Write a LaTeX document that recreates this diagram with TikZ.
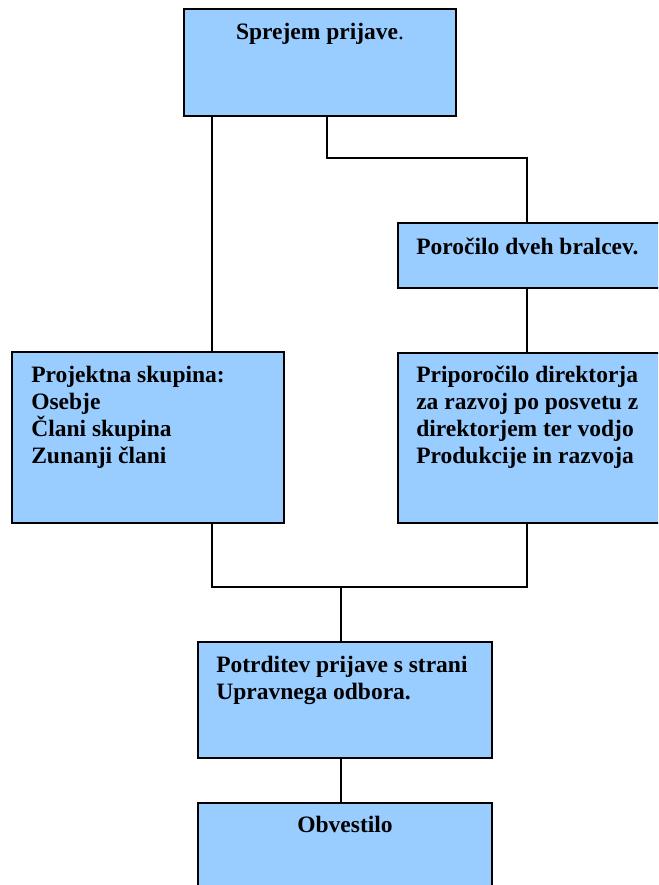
\documentclass[tikz,border=0pt]{standalone}
\usepackage{fontspec}
\setmainfont{Liberation Serif}
\definecolor{boxblue}{HTML}{99CCFF}

\begin{document}
\begin{tikzpicture}[x=1pt, y=-1pt,
		box/.style = {draw, fill=boxblue, line width=1.8pt, inner sep=0pt},
		txt/.style = {font=\fontsize{23.5}{27}\selectfont\bfseries, inner sep=0pt, align=left},
		line/.style = {line width=1.3pt}]
	\useasboundingbox (0,0) rectangle (658,885);
	\clip (0,0) rectangle (658,885);

	% boxes
	\node[box, minimum width=272pt, minimum height=107pt] (prijava) at (320,62.5) {};
	\node[box, minimum width=302pt, minimum height=65pt] (porocilo) at (549,255.5) {};
	\node[box, minimum width=272pt, minimum height=171pt] (skupina) at (148,437.5) {};
	\node[box, minimum width=302pt, minimum height=170pt] (priporocilo) at (549,438) {};
	\node[box, minimum width=294pt, minimum height=116pt] (potrditev) at (345,700) {};
	\node[box, minimum width=294pt, minimum height=127pt] (obvestilo) at (345,866.5) {};

	% texts (multi-line ones are placed by their last baseline)
	\node[txt, anchor=base] (t1) at ([yshift=-31pt]prijava.north) {Sprejem prijave\mdseries.};
	\node[txt, anchor=base west] (t2) at ([xshift=19pt, yshift=-32pt]porocilo.north west) {Poročilo dveh bralcev.};
	\node[txt, anchor=base west] (t3) at ([xshift=20pt, yshift=-112pt]skupina.north west) {Projektna skupina:\\Osebje\\Člani skupina\\Zunanji člani};
	\node[txt, anchor=base west] (t4) at ([xshift=19pt, yshift=-111pt]priporocilo.north west) {Priporočilo direktorja\\za razvoj po posvetu z\\direktorjem ter vodjo\\Produkcije in razvoja};
	\node[txt, anchor=base west] (t5) at ([xshift=19pt, yshift=-58pt]potrditev.north west) {Potrditev prijave s strani\\Upravnega odbora.};
	\node[txt, anchor=base] (t6) at ([yshift=-30pt]obvestilo.north) {Obvestilo};

	% connectors
	\coordinate (lx) at (212,0);
	\coordinate (rx) at (527,0);
	\coordinate (split) at (327,158);
	\coordinate (join) at (341,587);

	\draw[line] (prijava.south -| lx) to (skupina.north -| lx)
		(prijava.south -| split) -- (split) -| (porocilo.north -| rx)
		(porocilo.south -| rx) to (priporocilo.north -| rx)
		(skupina.south -| lx) |- (join) -| (priporocilo.south -| rx)
		(join) to (potrditev.north -| join)
		(potrditev.south -| join) to (obvestilo.north -| join);

\end{tikzpicture}
\end{document}
